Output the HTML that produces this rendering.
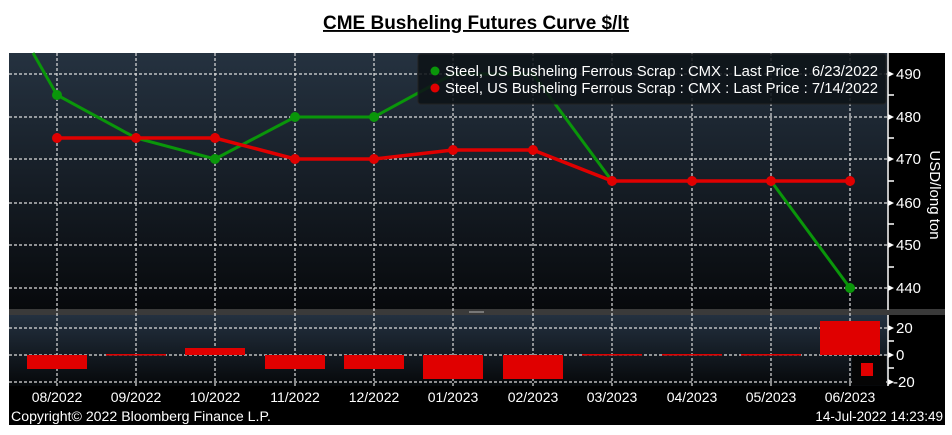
<!DOCTYPE html>
<html><head><style>
body{margin:0;background:#fff;width:952px;height:435px;overflow:hidden}
svg{display:block}
text{font-family:"Liberation Sans",sans-serif}
</style></head><body>
<svg width="952" height="435" viewBox="0 0 952 435" xmlns="http://www.w3.org/2000/svg">
<defs>
<linearGradient id="g1" x1="0" y1="0" x2="0" y2="1"><stop offset="0" stop-color="#253240"/><stop offset="1" stop-color="#07090c"/></linearGradient>
<linearGradient id="g2" x1="0" y1="0" x2="0" y2="1"><stop offset="0" stop-color="#243140"/><stop offset="1" stop-color="#06080a"/></linearGradient>
</defs>
<text x="476" y="29" text-anchor="middle" font-size="19" font-weight="bold" fill="#000" text-decoration="underline" textLength="306" lengthAdjust="spacingAndGlyphs">CME Busheling Futures Curve $/lt</text>
<rect x="9" y="53" width="936" height="372" fill="#000"/>
<rect x="9" y="53" width="878" height="257" fill="url(#g1)"/>
<rect x="9" y="309" width="936" height="6" fill="#3a3a3a"/>
<rect x="469" y="311" width="15" height="2" fill="#777"/>
<rect x="9" y="315" width="878" height="71" fill="url(#g2)"/>
<g stroke="#ddd" stroke-width="1.2" stroke-dasharray="3,2" fill="none">
<path d="M9 74H887M9 117H887M9 159H887M9 203H887M9 245H887M9 288H887"/>
<path d="M9 328H887M9 355H887M9 382H887"/>
<path d="M57 53V386M136 53V386M215 53V386M295 53V386M374 53V386M453 53V386M533 53V386M612 53V386M692 53V386M771 53V386M850 53V386"/>
</g>
<g stroke="#fff" stroke-width="1.5"><path d="M888 53V310M888 315V386"/>
<path d="M888 95h6M888 138h6M888 181h6M888 224h6M888 267h6M888 341h6M888 368h6"/></g>
<g fill="#fff"><path d="M888 71l6 3-6 3zM888 114l6 3-6 3zM888 156l6 3-6 3zM888 200l6 3-6 3zM888 242l6 3-6 3zM888 285l6 3-6 3zM888 325l6 3-6 3zM888 352l6 3-6 3zM888 379l6 3-6 3z"/></g>
<g fill="#fff" font-size="15"><text x="896" y="79">490</text><text x="896" y="122">480</text><text x="896" y="164">470</text><text x="896" y="208">460</text><text x="896" y="250">450</text><text x="896" y="293">440</text>
<text x="896" y="333">20</text><text x="896" y="360">0</text><text x="893" y="387">-20</text></g>
<text transform="translate(930,195) rotate(90)" text-anchor="middle" fill="#fff" font-size="15">USD/long ton</text>
<g fill="#e00000">
<rect x="27" y="355" width="60" height="14"/><rect x="106" y="354" width="60" height="1.5"/>
<rect x="185" y="348" width="60" height="7"/><rect x="265" y="355" width="60" height="14"/>
<rect x="344" y="355" width="60" height="14"/><rect x="423" y="355" width="60" height="24"/>
<rect x="503" y="355" width="60" height="24"/><rect x="582" y="354" width="60" height="1.5"/>
<rect x="662" y="354" width="60" height="1.5"/><rect x="741" y="354" width="60" height="1.5"/>
<rect x="820" y="321" width="60" height="34"/></g>
<rect x="852" y="356" width="34" height="29" fill="#050505"/>
<rect x="861" y="363" width="12" height="13" fill="#e00000"/>
<polyline fill="none" stroke="#0a960a" stroke-width="3" points="33,53 57,95 136,138 215,159 295,117 374,117 453,74 533,74 612,181 692,181 771,181 850,288"/>
<g fill="#0a960a"><circle cx="57" cy="95" r="5"/><circle cx="215" cy="159" r="5"/><circle cx="295" cy="117" r="5"/><circle cx="374" cy="117" r="5"/><circle cx="850" cy="288" r="5"/></g>
<polyline fill="none" stroke="#e00000" stroke-width="3.5" points="57,138 136,138 215,138 295,159 374,159 453,150 533,150 612,181 692,181 771,181 850,181"/>
<g fill="#e00000"><circle cx="57" cy="138" r="5"/><circle cx="136" cy="138" r="5"/><circle cx="215" cy="138" r="5"/><circle cx="295" cy="159" r="5"/><circle cx="374" cy="159" r="5"/><circle cx="453" cy="150" r="5"/><circle cx="533" cy="150" r="5"/><circle cx="612" cy="181" r="5"/><circle cx="692" cy="181" r="5"/><circle cx="771" cy="181" r="5"/><circle cx="850" cy="181" r="5"/></g>
<rect x="418" y="54" width="468" height="50" rx="3" fill="#0d1217" fill-opacity="0.88" stroke="#222" />
<circle cx="435" cy="71" r="4.5" fill="#0a960a"/><circle cx="435" cy="88" r="4.5" fill="#e00000"/>
<g fill="#fff" font-size="14.5"><text x="445" y="76" textLength="433" lengthAdjust="spacingAndGlyphs">Steel, US Busheling Ferrous Scrap : CMX : Last Price : 6/23/2022</text>
<text x="445" y="93" textLength="433" lengthAdjust="spacingAndGlyphs">Steel, US Busheling Ferrous Scrap : CMX : Last Price : 7/14/2022</text></g>
<g fill="#fff" font-size="14" text-anchor="middle"><text x="57" y="402">08/2022</text><text x="136" y="402">09/2022</text><text x="215" y="402">10/2022</text><text x="295" y="402">11/2022</text><text x="374" y="402">12/2022</text><text x="453" y="402">01/2023</text><text x="533" y="402">02/2023</text><text x="612" y="402">03/2023</text><text x="692" y="402">04/2023</text><text x="771" y="402">05/2023</text><text x="850" y="402">06/2023</text></g>
<text x="11" y="421" fill="#fff" font-size="13.5" textLength="260" lengthAdjust="spacingAndGlyphs">Copyright© 2022 Bloomberg Finance L.P.</text>
<text x="943" y="421" fill="#fff" font-size="13.5" text-anchor="end">14-Jul-2022 14:23:49</text>
</svg>
</body></html>
